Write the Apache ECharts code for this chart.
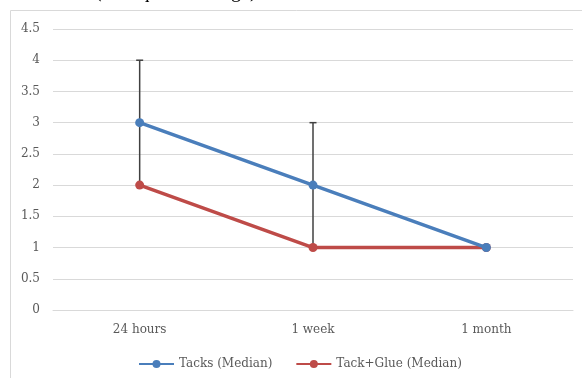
<!DOCTYPE html>
<html>
<head>
<meta charset="utf-8">
<script src="https://cdn.jsdelivr.net/npm/echarts@6/dist/echarts.min.js"></script>
<style>
html,body{margin:0;padding:0;background:#fff;}
#chart{width:582px;height:378px;}
</style>
</head>
<body>
<div id="chart"></div>
<script>
var categories = ['24 hours', '1 week', '1 month'];
var tacksMedian = [3, 2, 1];
var tackGlueMedian = [2, 1, 1];
var tacksErrLow = [2, 1, 1];
var tacksErrHigh = [4, 3, 1];
var yTicks = [0, 0.5, 1, 1.5, 2, 2.5, 3, 3.5, 4, 4.5];
var titleText = '(Interquartile range)';

var errData = categories.map(function (c, i) { return [i, tacksErrLow[i], tacksErrHigh[i]]; });

var chart = echarts.init(document.getElementById('chart'));
var fontFam = '"DejaVu Serif", serif';
chart.setOption({
  animation: false,
  graphic: [
    { type: 'rect', shape: { x: 10.5, y: 10.5, width: 600, height: 400 }, style: { fill: 'none', stroke: '#d9d9d9', lineWidth: 1 }, z: 0 },
    { type: 'text', left: 95, top: -18, style: { text: titleText, font: '20px "Liberation Serif", serif', fill: '#000' } }
  ],
  grid: { left: 53, right: 9, top: 29, bottom: 68 },
  xAxis: {
    type: 'category',
    data: categories,
    boundaryGap: true,
    axisLine: { lineStyle: { color: '#d9d9d9', width: 1 } },
    axisTick: { show: false },
    axisLabel: { color: '#595959', fontFamily: fontFam, fontSize: 12, margin: 14 }
  },
  yAxis: {
    type: 'value',
    min: yTicks[0],
    max: yTicks[yTicks.length - 1],
    interval: 0.5,
    axisLine: { show: false },
    axisTick: { show: false },
    splitLine: { lineStyle: { color: '#d9d9d9', width: 1 } },
    axisLabel: { color: '#595959', fontFamily: fontFam, fontSize: 12, margin: 13 }
  },
  legend: {
    left: 133,
    top: 353,
    itemWidth: 35,
    itemHeight: 10,
    itemGap: 23,
    textStyle: { color: '#595959', fontFamily: fontFam, fontSize: 12 },
    data: ['Tacks (Median)', 'Tack+Glue (Median)']
  },
  series: [
    {
      type: 'custom',
      name: 'err',
      z: 1,
      data: errData,
      renderItem: function (params, api) {
        var x = api.coord([api.value(0), 0])[0];
        var lo = api.coord([api.value(0), api.value(1)])[1];
        var hi = api.coord([api.value(0), api.value(2)])[1];
        if (Math.abs(lo - hi) < 0.5) return null;
        var st = { stroke: '#404040', lineWidth: 1.5 };
        return {
          type: 'group',
          children: [
            { type: 'line', shape: { x1: x, y1: lo, x2: x, y2: hi }, style: st },
            { type: 'line', shape: { x1: x - 3.5, y1: hi, x2: x + 3.5, y2: hi }, style: st },
            { type: 'line', shape: { x1: x - 3.5, y1: lo, x2: x + 3.5, y2: lo }, style: st }
          ]
        };
      }
    },
    {
      type: 'line',
      name: 'Tacks (Median)',
      data: tacksMedian,
      z: 3,
      symbol: 'circle',
      symbolSize: 9,
      color: '#4a7ebb',
      lineStyle: { width: 3.5, color: '#4a7ebb' },
      itemStyle: { color: '#4a7ebb' }
    },
    {
      type: 'line',
      name: 'Tack+Glue (Median)',
      data: tackGlueMedian,
      z: 2,
      symbol: 'circle',
      symbolSize: 9,
      color: '#be4b48',
      lineStyle: { width: 3.5, color: '#be4b48' },
      itemStyle: { color: '#be4b48' }
    }
  ]
});
</script>
</body>
</html>
